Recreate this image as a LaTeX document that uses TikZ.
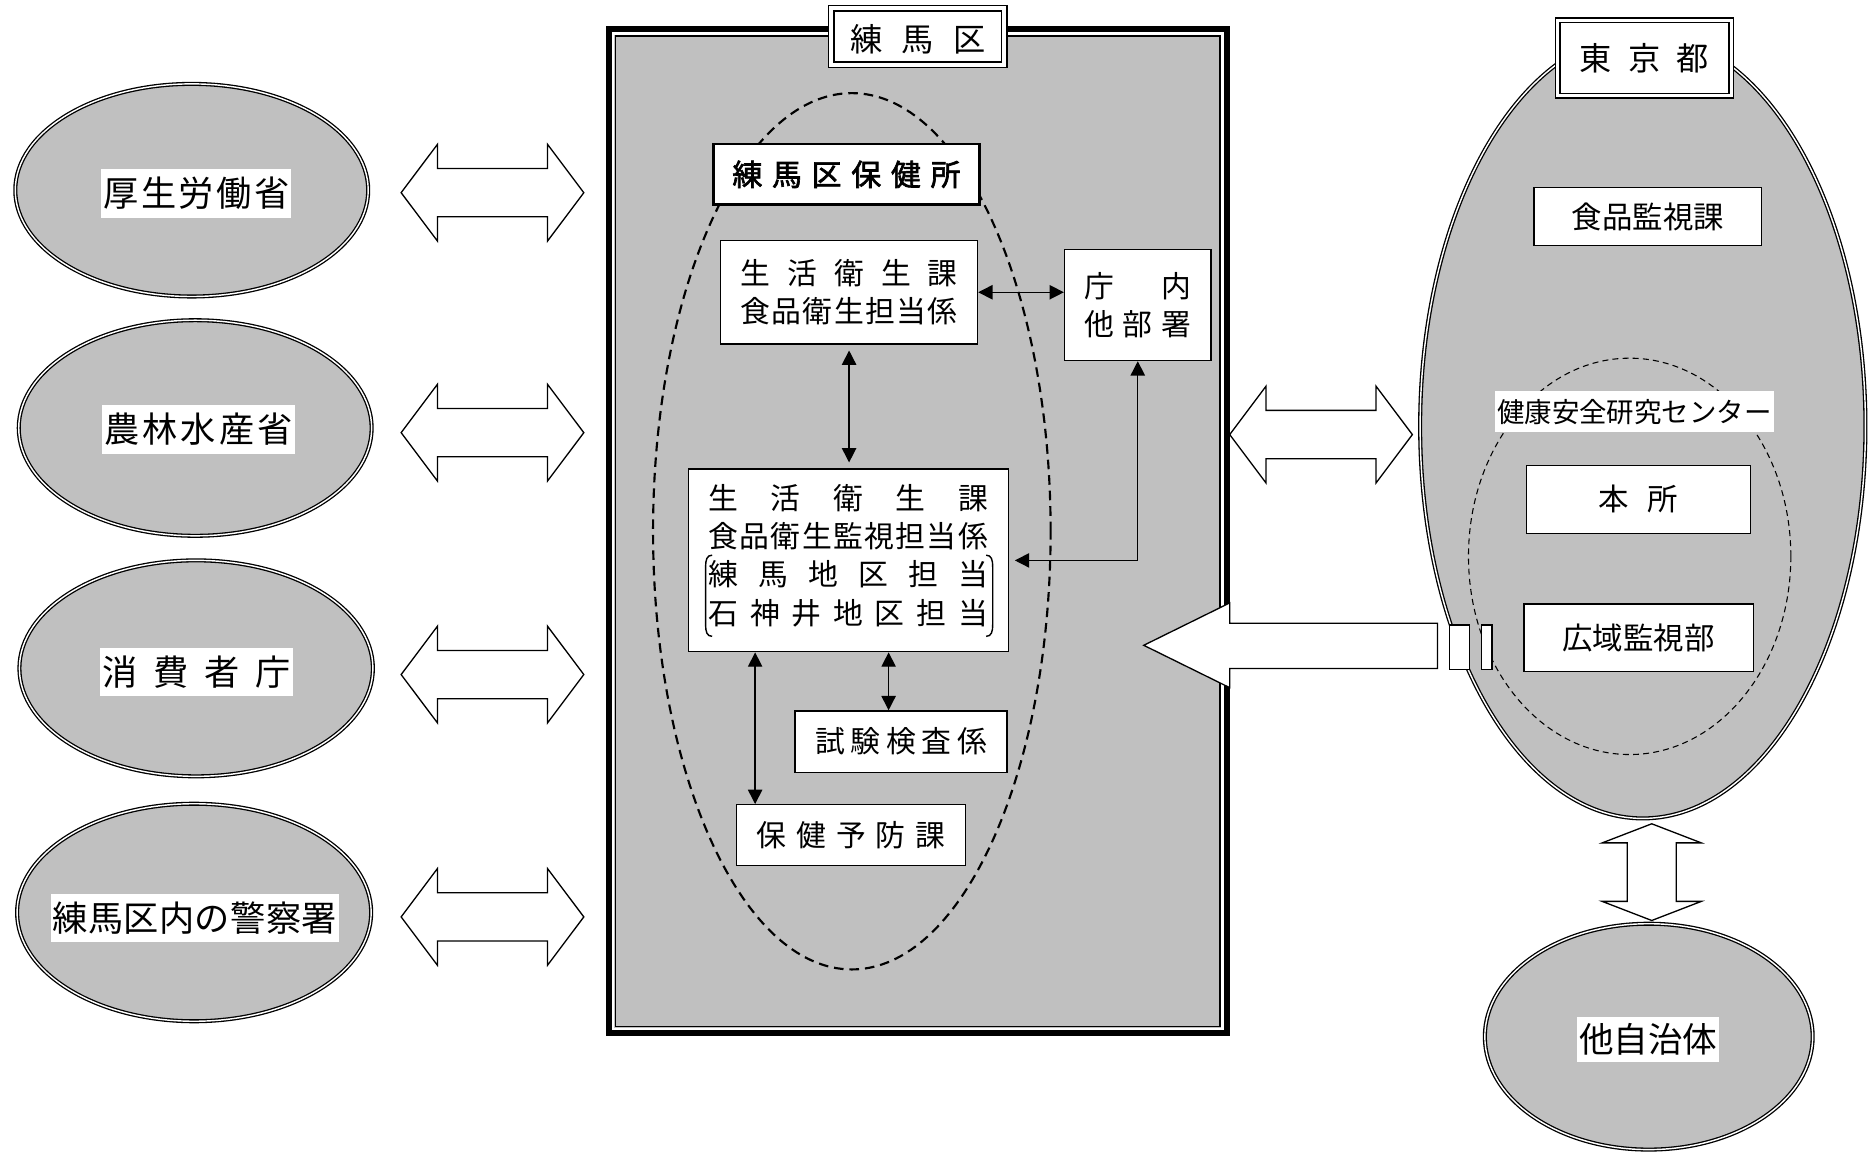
\documentclass[tikz,border=0pt]{standalone}
\usepackage{fontspec}
\setmainfont{Noto Sans CJK JP}
\newfontfamily\jpbold{Noto Sans CJK JP}[FakeBold=2.2]
\usetikzlibrary{shapes.geometric,arrows.meta}
\definecolor{fillgray}{RGB}{192,192,192}
\newcommand\spreadtext[2]{\makebox[#1][s]{#2}}
\newcommand\hdarrow[6]{%
 \draw[barrow] (#1,#3) -- ({#1+#4},{#3-#5}) -- ({#1+#4},{#3-#6}) -- ({#2-#4},{#3-#6}) -- ({#2-#4},{#3-#5}) -- (#2,#3) -- ({#2-#4},{#3+#5}) -- ({#2-#4},{#3+#6}) -- ({#1+#4},{#3+#6}) -- ({#1+#4},{#3+#5}) -- cycle;}
\newcommand\vdarrow[6]{%
 \draw[barrow] (#3,#1) -- ({#3+#5},{#1+#4}) -- ({#3+#6},{#1+#4}) -- ({#3+#6},{#2-#4}) -- ({#3+#5},{#2-#4}) -- (#3,#2) -- ({#3-#5},{#2-#4}) -- ({#3-#6},{#2-#4}) -- ({#3-#6},{#1+#4}) -- ({#3-#5},{#1+#4}) -- cycle;}
\tikzset{
  orgell/.style={ellipse, draw=black, double=white, double distance=1.2pt, line width=1.1pt, fill=fillgray, inner sep=0pt},
  ellabel/.style={fill=white, inner xsep=1.5pt, inner ysep=7pt, text height=24.5pt, text depth=2.2pt, font=\fontsize{29.5}{34}\selectfont},
  wbox/.style={rectangle, draw=black, fill=white, line width=1.1pt, inner sep=0pt},
  btext/.style={font=\fontsize{25}{31.5}\selectfont, align=center},
  ttext/.style={font=\fontsize{25.5}{30}\selectfont},
  dar/.style={line width=1.2pt, arrows={Triangle[length=12pt,width=12pt]-Triangle[length=12pt,width=12pt]}},
  barrow/.style={draw=black, fill=white, line width=1.1pt, line join=miter},
  titlebox/.style={rectangle, draw=black, double=white, fill=white, line width=1.2pt, inner sep=0pt},
}
\begin{document}
\begin{tikzpicture}[x=1pt,y=-1pt]
\useasboundingbox (0,0) rectangle (1568,967);

% ---------- left column ----------
\node[orgell, minimum width=295.6pt, minimum height=178.1pt] (mhlw) at (160.6,159.3) {};
\node[ellabel] (mhlwlbl) at (164.5,162) {\spreadtext{156pt}{厚\hfill 生\hfill 労\hfill 働\hfill 省}};
\node[orgell, minimum width=295.6pt, minimum height=180.6pt] (maff) at (163.5,358.5) {};
\node[ellabel] (mafflbl) at (166.2,359.8) {\spreadtext{158pt}{農\hfill 林\hfill 水\hfill 産\hfill 省}};
\node[orgell, minimum width=296.1pt, minimum height=180.9pt] (caa) at (164.3,559.8) {};
\node[ellabel] (caalbl) at (164.5,562.8) {\spreadtext{158pt}{消\hfill 費\hfill 者\hfill 庁}};
\node[orgell, minimum width=296.6pt, minimum height=182.2pt] (police) at (162.6,764.3) {};
\node[ellabel] (policelbl) at (163.2,769) {\spreadtext{238pt}{練\hfill 馬\hfill 区\hfill 内\hfill の\hfill 警\hfill 察\hfill 署}};

\hdarrow{336}{489}{161.4}{30.4}{40.5}{20.2}
\hdarrow{336}{489}{362.4}{30.4}{40.5}{20.2}
\hdarrow{336}{489}{565}{30.4}{40.5}{20.2}
\hdarrow{336}{489}{768}{30.4}{40.5}{20.2}

% ---------- Nerima frame ----------
\fill[fillgray] (507.5,22) rectangle (1030,868);
\draw[line width=5pt] (510,24.5) rectangle (1027.5,865.5);
\draw[white, line width=2pt] (513.5,28) rectangle (1024,862);
\draw[line width=1.3pt] (515.6,30.1) rectangle (1021.9,859.9);

\node[ellipse, draw=black, line width=1.8pt, dash pattern=on 8pt off 5pt, minimum width=333pt, minimum height=734pt, inner sep=0pt] (hcell) at (713.5,445) {};

\node[wbox, line width=2.2pt, minimum width=223pt, minimum height=51pt, font=\jpbold\fontsize{25}{28}\selectfont] (hokenjo) at (709,146) {\spreadtext{191pt}{練\hfill 馬\hfill 区\hfill 保\hfill 健\hfill 所}};

\node[wbox, btext, minimum width=215.2pt, minimum height=86.4pt] (sk1) at (711.2,244.8)
  {\spreadtext{182pt}{生\hfill 活\hfill 衛\hfill 生\hfill 課}\\ \spreadtext{182pt}{食\hfill 品\hfill 衛\hfill 生\hfill 担\hfill 当\hfill 係}};

\node[wbox, btext, minimum width=122.7pt, minimum height=93pt] (chonai) at (953,255.5)
  {\spreadtext{89pt}{庁\hfill 内}\\ \spreadtext{89pt}{他\hfill 部\hfill 署}};

\node[wbox, minimum width=268pt, minimum height=153pt] (main) at (710.5,469.4) {};
\node[font=\fontsize{25}{32.2}\selectfont, align=center, inner sep=0pt] (maintxt) at (710.5,465.3)
  {\spreadtext{234pt}{生\hfill 活\hfill 衛\hfill 生\hfill 課}\\
   \spreadtext{234pt}{食\hfill 品\hfill 衛\hfill 生\hfill 監\hfill 視\hfill 担\hfill 当\hfill 係}\\
   \spreadtext{234pt}{練\hfill 馬\hfill 地\hfill 区\hfill 担\hfill 当}\\
   \spreadtext{234pt}{石\hfill 神\hfill 井\hfill 地\hfill 区\hfill 担\hfill 当}};
\draw[line width=1.2pt] (596.5,465) .. controls (592,465) and (591,469) .. (591,475) -- (591,523) .. controls (591,529) and (592,533) .. (596.5,533);
\draw[line width=1.2pt] (826,465) .. controls (830.5,465) and (831.5,469) .. (831.5,475) -- (831.5,523) .. controls (831.5,529) and (830.5,533) .. (826,533);

\node[wbox, btext, minimum width=177.5pt, minimum height=51.5pt] (shiken) at (754.75,621.2)
  {\spreadtext{144pt}{試\hfill 験\hfill 検\hfill 査\hfill 係}};
\node[wbox, btext, minimum width=191.5pt, minimum height=51pt] (yobo) at (712.75,699.5)
  {\spreadtext{158pt}{保\hfill 健\hfill 予\hfill 防\hfill 課}};

% inner connectors
\coordinate (xl) at (632.5,0);
\coordinate (xr) at (744.3,0);
\coordinate (sk1m) at (sk1.south |- main.north);
\draw[dar] (sk1.east) -- (chonai.west |- sk1.east);
\draw[dar] ([yshift=-5pt]sk1.south) -- ([yshift=5pt]sk1m);
\draw[dar] (chonai.south) |- ([xshift=5pt]main.east);
\draw[dar] (main.south -| xl) -- (yobo.north -| xl);
\draw[dar] (main.south -| xr) -- (shiken.north -| xr);

% Nerima title
\node[titlebox, double distance=3.4pt, minimum width=144.9pt, minimum height=47.4pt] (nerimat) at (768.75,30.5) {};
\node[font=\fontsize{27}{30}\selectfont, inner sep=0pt] (nerimattxt) at (768.75,33) {\spreadtext{113pt}{練\hfill 馬\hfill 区}};

% ---------- Tokyo ----------
\node[orgell, minimum width=373pt, minimum height=657pt] (tokyo) at (1376,357) {};
\node[ellipse, draw=black, line width=0.9pt, dash pattern=on 5pt off 3.5pt, minimum width=270pt, minimum height=332pt, inner sep=0pt] (kenan) at (1365,466) {};
\node[fill=white, inner xsep=2pt, inner ysep=6.5pt, text height=20pt, text depth=1.8pt, font=\fontsize{23}{28}\selectfont] (kenanlbl) at (1369,344.5) {健康安全研究センター};
\node[wbox, ttext, minimum width=190.5pt, minimum height=48.8pt] (shokuhin) at (1380.25,181.4) {食品監視課};
\node[wbox, ttext, minimum width=187.3pt, minimum height=56.6pt] (honsho) at (1372.35,418.3) {本\hspace{16pt}所};
\node[wbox, ttext, minimum width=192pt, minimum height=56.6pt] (koiki) at (1372.5,534.3) {広域監視部};

\node[titlebox, double distance=2.6pt, minimum width=145.2pt, minimum height=63.2pt, font=\fontsize{27}{30}\selectfont] (tokyot) at (1377.35,48.45) {\spreadtext{108pt}{東\hfill 京\hfill 都}};

% other municipalities
\node[orgell, minimum width=274.6pt, minimum height=189.2pt] (tajichi) at (1381,868.3) {};
\node[fill=white, inner xsep=1.5pt, inner ysep=5.5pt, text height=24.5pt, text depth=2.2pt, font=\fontsize{29}{34}\selectfont] (tajichilbl) at (1380.6,870.5) {他自治体};

% block arrows right side
\hdarrow{1030}{1183}{364}{30.4}{40.5}{20.3}
\draw[barrow] (958,540.5) -- (1030,505) -- (1030,522) -- (1204,522) -- (1204,560) -- (1030,560) -- (1030,576) -- cycle;
\draw[barrow] (1214,523.5) rectangle (1231,560.5);
\draw[barrow] (1241,523.5) rectangle (1249.7,560.5);
\vdarrow{690}{771}{1383.5}{16}{41.5}{20.5}

\end{tikzpicture}
\end{document}
